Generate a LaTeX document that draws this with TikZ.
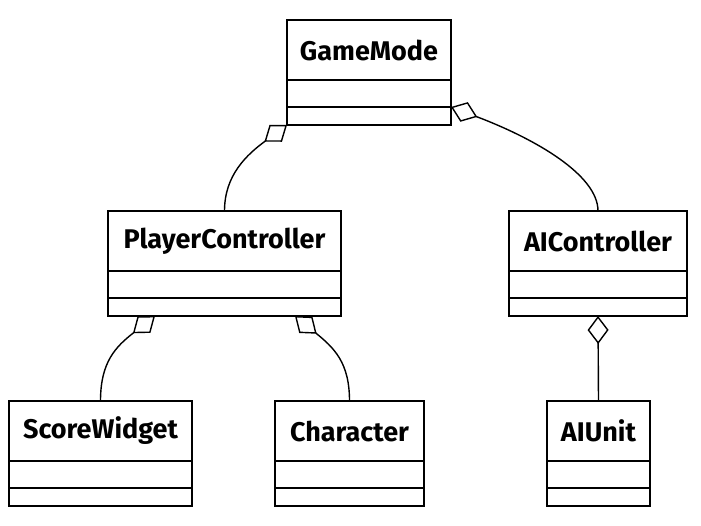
\documentclass[tikz,border=0pt]{standalone}
\usepackage{fontspec}
\setmainfont{Fira Sans}
\usetikzlibrary{arrows.meta,calc}
\begin{document}
\begin{tikzpicture}[x=1pt,y=-1pt,
  box/.style={draw,fill=white,line width=1.4pt,inner sep=0pt,outer sep=0pt},
  namebox/.style={box,minimum height=60pt,font=\fontsize{27}{32}\selectfont\bfseries},
  attrbox/.style={box,minimum height=27pt,anchor=north},
  methbox/.style={box,minimum height=18pt,anchor=north},
  link/.style={line width=1.4pt},
  agg/.style={link,{Diamond[open,length=28pt,width=21pt]}-}]
\useasboundingbox (0,0) rectangle (701,526);
% GameMode
\node[namebox,minimum width=164pt] (gm) at (369,50) {GameMode};
\node[attrbox,minimum width=164pt] (gma) at (gm.south) {};
\node[methbox,minimum width=164pt] (gmm) at (gma.south) {};
% PlayerController
\node[namebox,minimum width=233pt] (pc) at (224.5,241) {PlayerController};
\node[attrbox,minimum width=233pt] (pca) at (pc.south) {};
\node[methbox,minimum width=233pt] (pcm) at (pca.south) {};
% AIController
\node[namebox,minimum width=178pt] (aic) at (598,241) {AIController};
\node[attrbox,minimum width=178pt] (aica) at (aic.south) {};
\node[methbox,minimum width=178pt] (aicm) at (aica.south) {};
% ScoreWidget
\node[namebox,minimum width=183pt] (sw) at (100.5,431) {ScoreWidget};
\node[attrbox,minimum width=183pt] (swa) at (sw.south) {};
\node[methbox,minimum width=183pt] (swm) at (swa.south) {};
% Character
\node[namebox,minimum width=149pt] (ch) at (349.5,431) {Character};
\node[attrbox,minimum width=149pt] (cha) at (ch.south) {};
\node[methbox,minimum width=149pt] (chm) at (cha.south) {};
% AIUnit
\node[namebox,minimum width=103pt] (au) at (598.5,431) {AIUnit};
\node[attrbox,minimum width=103pt] (aua) at (au.south) {};
\node[methbox,minimum width=103pt] (aum) at (aua.south) {};
% connectors
\coordinate (pcl) at ([xshift=-69.5pt]pcm.south);
\coordinate (pcr) at ([xshift=70.5pt]pcm.south);
\draw[agg] (gmm.south west) .. controls +(-40.2,29.7) and +(0,-36) .. (pc.north);
\draw[agg] (gma.south east) .. controls +(84.2,31.8) and +(0,-36) .. (aic.north);
\draw[agg] (pcl) .. controls +(-39.4,30.8) and +(0,-39) .. (sw.north);
\draw[agg] (pcr) .. controls +(38.7,31.7) and +(0,-39) .. (ch.north);
\draw[agg] (aicm.south) -- (au.north);
\end{tikzpicture}
\end{document}
